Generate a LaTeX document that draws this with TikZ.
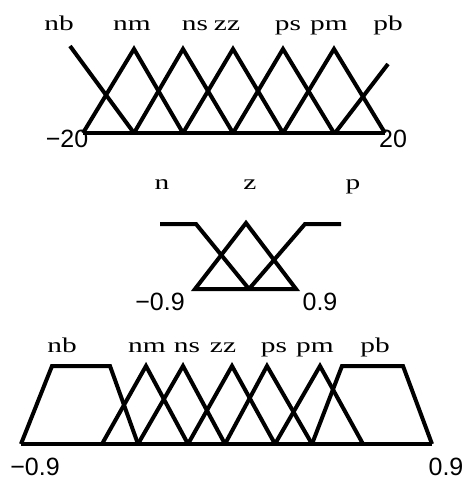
\documentclass[tikz,border=0pt]{standalone}
\usepackage{fontspec}
\setmainfont{Liberation Serif}
\newfontfamily\numfont{Liberation Sans}
\newcommand{\wlbl}[1]{\scalebox{1.4}[1]{#1}}
\begin{document}
\begin{tikzpicture}[x=1pt,y=-1pt,
  mf/.style={line width=4pt,line join=miter},
  lbl/.style={inner sep=0pt,anchor=base,font=\fontsize{21}{21}\selectfont},
  num/.style={inner sep=0pt,anchor=base,font=\numfont\fontsize{25}{25}\selectfont}]
\useasboundingbox (0,0) rectangle (465,482);
% ---- top: error e, range -20..20
\draw[mf] (83,133) -- (385,133);
\draw[mf] (70,46) -- (134,133);
\draw[mf] (83,133) -- (134,49) -- (183,133);
\draw[mf] (134,133) -- (183,49) -- (233,133);
\draw[mf] (183,133) -- (233,49) -- (283,133);
\draw[mf] (233,133) -- (283,49) -- (334,133);
\draw[mf] (283,133) -- (334,49) -- (385,133);
\draw[mf] (335,133) -- (388,64);
\node[lbl] (t1) at (59,30) {\wlbl{nb}};
\node[lbl] (t2) at (132,30) {\wlbl{nm}};
\node[lbl] (t3) at (195,30) {\wlbl{ns}};
\node[lbl] (t4) at (227,30) {\wlbl{zz}};
\node[lbl] (t5) at (288,30) {\wlbl{ps}};
\node[lbl] (t6) at (329,30) {\wlbl{pm}};
\node[lbl] (t7) at (388,30) {\wlbl{pb}};
\node[num] (tl) at (67,147) {−20};
\node[num] (tr) at (393,147) {20};
% ---- middle: n z p, range -0.9..0.9
\draw[mf] (160,224) -- (196,224) -- (249,289);
\draw[mf] (195,289) -- (246,223) -- (296,289) -- cycle;
\draw[mf] (249,289) -- (305,224) -- (341,224);
\node[lbl] (m1) at (162,189) {\wlbl{n}};
\node[lbl] (m2) at (250,189) {\wlbl{z}};
\node[lbl] (m3) at (353,189) {\wlbl{p}};
\node[num] (ml) at (160,310) {−0.9};
\node[num] (mr) at (320,310) {0.9};
% ---- bottom: output, range -0.9..0.9
\draw[mf] (21,444) -- (432,444);
\draw[mf] (21,444) -- (52,366) -- (110,366) -- (138,444);
\draw[mf] (102,444) -- (146,366) -- (188,444);
\draw[mf] (138,444) -- (183,366) -- (225,444);
\draw[mf] (188,444) -- (232,366) -- (275,444);
\draw[mf] (225,444) -- (267,366) -- (312,444);
\draw[mf] (275,444) -- (320,366) -- (363,444);
\draw[mf] (312,444) -- (342,366) -- (403,366) -- (432,444);
\node[lbl] (b1) at (62,352) {\wlbl{nb}};
\node[lbl] (b2) at (147,352) {\wlbl{nm}};
\node[lbl] (b3) at (187,352) {\wlbl{ns}};
\node[lbl] (b4) at (223,352) {\wlbl{zz}};
\node[lbl] (b5) at (274,352) {\wlbl{ps}};
\node[lbl] (b6) at (315,352) {\wlbl{pm}};
\node[lbl] (b7) at (375,352) {\wlbl{pb}};
\node[num] (bl) at (35,475) {−0.9};
\node[num] (br) at (446,475) {0.9};
\end{tikzpicture}
\end{document}
